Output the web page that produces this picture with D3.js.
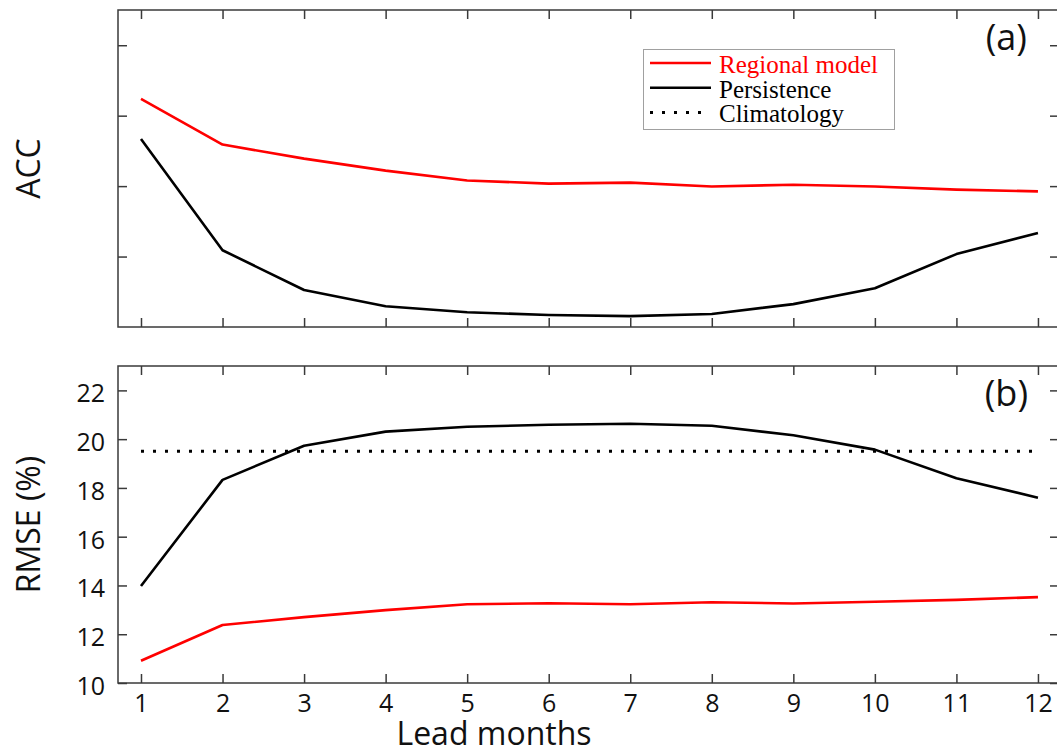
<!DOCTYPE html>
<html lang="en">
<head>
<meta charset="utf-8">
<title>ACC and RMSE by lead month</title>
<script src="https://cdn.jsdelivr.net/npm/d3@7"></script>
<style>
  body { margin: 0; background: #fff; }
  svg { display: block; }
</style>
</head>
<body>
<script>
// lead months
var months = [1, 2, 3, 4, 5, 6, 7, 8, 9, 10, 11, 12];

// (a) ACC
var accRegional    = [0.648, 0.518, 0.478, 0.444, 0.416, 0.407, 0.410, 0.399, 0.404, 0.399, 0.390, 0.385];
var accPersistence = [0.534, 0.218, 0.105, 0.059, 0.042, 0.034, 0.031, 0.037, 0.065, 0.110, 0.207, 0.267];
var accTicks = [0.2, 0.4, 0.6, 0.8];

// (b) RMSE (%)
var rmseRegional    = [10.91, 12.38, 12.70, 12.99, 13.23, 13.27, 13.23, 13.31, 13.26, 13.33, 13.41, 13.52];
var rmsePersistence = [13.98, 18.33, 19.73, 20.31, 20.51, 20.59, 20.63, 20.55, 20.16, 19.57, 18.40, 17.60];
var rmseClimatology = 19.5;
var rmseTicks = [10, 12, 14, 16, 18, 20, 22];

var legendItems = ["Regional model", "Persistence", "Climatology"];

var w = 1057, h = 751;
var left = 118, right = 1059;
var axisColor = "#3a3a3a";
var font = "'Open Sans', sans-serif";

var svg = d3.select("body").append("svg")
    .attr("width", w)
    .attr("height", h);

var x = d3.scaleLinear().domain([0.718, 12.258]).range([left, right]);

function panel(top, bottom, yDomain, yTicks, showYLabels, showXLabels) {
    var y = d3.scaleLinear().domain(yDomain).range([bottom, top]);
    var g = svg.append("g");

    // inward ticks on all four sides
    var xb = d3.axisBottom(x).tickValues(months).tickSizeInner(-9).tickSizeOuter(0).tickPadding(11);
    if (!showXLabels) xb.tickFormat("");
    g.append("g").attr("transform", "translate(0," + bottom + ")").call(xb);
    g.append("g").attr("transform", "translate(0," + top + ")")
        .call(d3.axisTop(x).tickValues(months).tickSizeInner(-9).tickSizeOuter(0).tickFormat(""));

    var yl = d3.axisLeft(y).tickValues(yTicks).tickSizeInner(-9).tickSizeOuter(0).tickPadding(13);
    if (!showYLabels) yl.tickFormat("");
    var ay = g.append("g").attr("transform", "translate(" + left + ",0)").call(yl);
    g.append("g").attr("transform", "translate(" + right + ",0)")
        .call(d3.axisRight(y).tickValues(yTicks).tickSizeInner(-9).tickSizeOuter(0).tickFormat(""));

    g.selectAll(".domain").remove();
    g.selectAll(".tick line").attr("stroke", axisColor).attr("stroke-width", 1.5);
    g.selectAll(".tick text")
        .attr("font-family", font)
        .attr("font-size", "25px")
        .attr("fill", "#111");
    ay.selectAll(".tick text").attr("dy", "0.46em");

    g.append("rect")
        .attr("x", left).attr("y", top)
        .attr("width", right - left).attr("height", bottom - top)
        .attr("fill", "none")
        .attr("stroke", axisColor)
        .attr("stroke-width", 1.5);

    return y;
}

function drawLine(y, values, color, dash) {
    var line = d3.line()
        .x(function(d, i) { return x(months[i]); })
        .y(function(d) { return y(d); });
    svg.append("path")
        .datum(values)
        .attr("d", line)
        .attr("fill", "none")
        .attr("stroke", color)
        .attr("stroke-width", dash ? 3 : 2.6)
        .attr("stroke-dasharray", dash || null)
        .attr("stroke-linejoin", "round");
}

// (a)
var yA = panel(10, 327, [0, 0.9], accTicks, false, false);
drawLine(yA, accRegional, "#ff0000");
drawLine(yA, accPersistence, "#000");

// (b)
var yB = panel(366, 683, [10, 23], rmseTicks, true, true);
drawLine(yB, months.map(function() { return rmseClimatology; }), "#000", "3 9");
drawLine(yB, rmseRegional, "#ff0000");
drawLine(yB, rmsePersistence, "#000");

// panel letters
svg.append("text").text("(a)")
    .attr("x", 1027).attr("y", 50).attr("text-anchor", "end")
    .attr("font-family", font).attr("font-size", "36px").attr("fill", "#111");
svg.append("text").text("(b)")
    .attr("x", 1028).attr("y", 406).attr("text-anchor", "end")
    .attr("font-family", font).attr("font-size", "36px").attr("fill", "#111");

// axis titles
svg.append("text").text("ACC")
    .attr("transform", "translate(40," + (10 + 327) / 2 + ") rotate(-90)")
    .attr("text-anchor", "middle")
    .attr("font-family", font).attr("font-size", "32px").attr("fill", "#111");
svg.append("text").text("RMSE (%)")
    .attr("transform", "translate(40," + (366 + 683) / 2 + ") rotate(-90)")
    .attr("text-anchor", "middle")
    .attr("font-family", font).attr("font-size", "32px").attr("fill", "#111");
svg.append("text").text("Lead months")
    .attr("x", 494).attr("y", 745)
    .attr("text-anchor", "middle")
    .attr("font-family", font).attr("font-size", "32px").attr("fill", "#111");

// legend
var legend = svg.append("g");
legend.append("rect")
    .attr("x", 643.5).attr("y", 49.5).attr("width", 251).attr("height", 80)
    .attr("fill", "#fff").attr("stroke", "#a0a0a0").attr("stroke-width", 1);
var legColors = ["#ff0000", "#000", "#000"];
var legDash = [null, null, "3 9"];
legendItems.forEach(function(name, i) {
    var base = 73 + i * 24.7;
    legend.append("line")
        .attr("x1", 650).attr("x2", i === 2 ? 708 : 711)
        .attr("y1", base - 10).attr("y2", base - 10)
        .attr("stroke", legColors[i])
        .attr("stroke-width", i === 2 ? 3 : 2.6)
        .attr("stroke-dasharray", legDash[i]);
    legend.append("text").text(name)
        .attr("x", 719).attr("y", base)
        .attr("font-family", "'Liberation Serif', 'Times New Roman', serif")
        .attr("font-size", "25px")
        .attr("fill", legColors[i]);
});
</script>
</body>
</html>
